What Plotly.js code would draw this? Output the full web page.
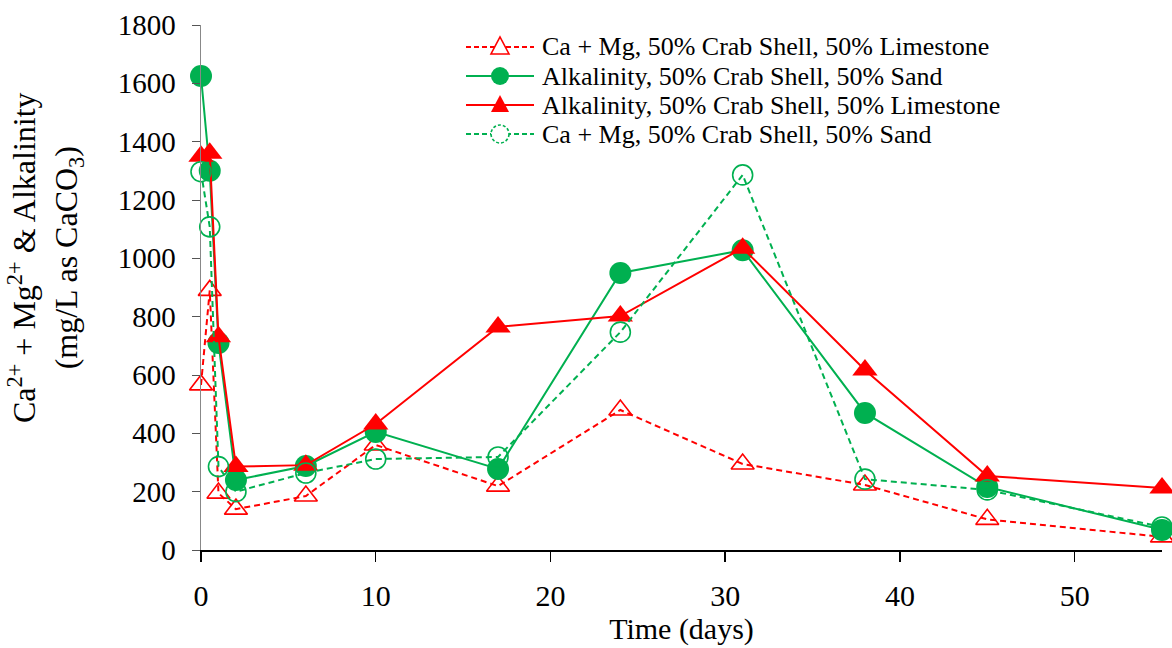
<!DOCTYPE html>
<html>
<head>
<meta charset="utf-8">
<script src="https://cdn.plot.ly/plotly-3.0.1.min.js"></script>
<style>html,body{margin:0;padding:0;background:#fff;}#chart{width:1172px;height:648px;}</style>
</head>
<body>
<div id="chart"></div>
<script>
// Time (days) for each sample
const days = [0, 0.5, 1, 2, 6, 10, 17, 24, 31, 38, 45, 55];

// Series values (mg/L as CaCO3)
const caMgLimestone   = [566, 890, 195, 140, 185, 360, 219, 480, 295, 223, 105, 45];
const alkSand         = [1625, 1300, 710, 240, 288, 405, 278, 950, 1028, 470, 216, 69];
const alkLimestone    = [1350, 1360, 731, 286, 291, 432, 765, 802, 1035, 617, 254, 213];
const caMgSand        = [1297, 1108, 286, 200, 264, 312, 319, 747, 1286, 243, 206, 79];

const seriesNames = [
  "Ca + Mg, 50% Crab Shell, 50% Limestone",
  "Alkalinity, 50% Crab Shell, 50% Sand",
  "Alkalinity, 50% Crab Shell, 50% Limestone",
  "Ca + Mg, 50% Crab Shell, 50% Sand"
];

const yTicks = [0, 200, 400, 600, 800, 1000, 1200, 1400, 1600, 1800];
const xTicks = [0, 10, 20, 30, 40, 50];

const RED = "#FF0000", GREEN = "#00B050";
const FONT = '"Times New Roman", "Liberation Serif", serif';

// styles per series (legend + traces)
const styles = [
  {color: RED,   dash: "6px,4px", symbol: "triangle-up-open", size: 20, kind: "tri",  filled: false},
  {color: GREEN, dash: "solid",   symbol: "circle",           size: 22, kind: "circ", filled: true},
  {color: RED,   dash: "solid",   symbol: "triangle-up",      size: 22, kind: "tri",  filled: true},
  {color: GREEN, dash: "6px,4px", symbol: "circle-open",      size: 20, kind: "circ", filled: false}
];
const seriesValues = [caMgLimestone, alkSand, alkLimestone, caMgSand];

const traces = seriesValues.map((vals, i) => {
  const s = styles[i];
  return {
    x: days, y: vals, name: seriesNames[i], mode: "lines+markers", cliponaxis: false,
    line: {color: s.color, width: 2, dash: s.dash},
    marker: s.filled
      ? {symbol: s.symbol, size: s.size, color: s.color}
      : {symbol: s.symbol, size: s.size, color: s.color, line: {color: s.color, width: 1.6}}
  };
});

// Plot geometry (pixels) used to place the custom legend
const M = {l: 201, r: 10, t: 25, b: 98};
const W = 1172, H = 648;
const PW = W - M.l - M.r, PH = H - M.t - M.b;
const px2x = p => (p - M.l) / PW;
const py2y = p => (H - M.b - p) / PH;

const legRows = [47, 76, 105, 134];
const legLineX0 = 466, legLineX1 = 534, legMarkX = 500, legTextX = 540;

const shapes = [];
const annotations = [];
seriesNames.forEach((name, i) => {
  const s = styles[i];
  const yp = py2y(legRows[i]);
  shapes.push({type: "line", xref: "paper", yref: "paper",
               x0: px2x(legLineX0), x1: px2x(legLineX1), y0: yp, y1: yp,
               line: {color: s.color, width: 2, dash: s.dash === "solid" ? "solid" : "5px,3px"}});
  const base = {xref: "paper", yref: "paper", xsizemode: "pixel", ysizemode: "pixel",
                xanchor: px2x(legMarkX), yanchor: yp,
                fillcolor: s.filled ? s.color : "#fff",
                line: {color: s.color, width: s.filled ? 0 : 1.6, dash: (!s.filled && s.kind === "circ") ? "3px,2px" : "solid"}};
  if (s.kind === "circ") {
    shapes.push(Object.assign({type: "circle", x0: -9, x1: 9, y0: -9, y1: 9}, base));
  } else {
    shapes.push(Object.assign({type: "path", path: "M -9,-7 L 9,-7 L 0,10 Z"}, base));
  }
  annotations.push({xref: "paper", yref: "paper", x: px2x(legTextX), y: yp,
                    xanchor: "left", yanchor: "middle", showarrow: false,
                    text: name, font: {family: FONT, size: 26, color: "#000"}});
});

// y-axis title (two lines) placed left of tick labels
annotations.push({xref: "paper", yref: "paper", x: px2x(45), y: py2y(258),
                  xanchor: "center", yanchor: "middle", showarrow: false, textangle: -90,
                  text: "Ca<sup>2+</sup> + Mg<sup>2+</sup> & Alkalinity<br>(mg/L as CaCO<sub>3</sub>)",
                  font: {family: FONT, size: 32, color: "#000"}});

const layout = {
  width: W, height: H,
  margin: M,
  paper_bgcolor: "#fff", plot_bgcolor: "#fff",
  font: {family: FONT, size: 28, color: "#000"},
  showlegend: false,
  shapes: shapes,
  annotations: annotations,
  xaxis: {range: [0, 55], tickvals: xTicks, ticktext: xTicks.map(String),
          showgrid: false, zeroline: false, showline: true, linecolor: "#000", linewidth: 1.5,
          ticks: "outside", ticklen: 10, tickcolor: "#000", tickwidth: 1.5,
          tickfont: {family: FONT, size: 30}, ticklabelstandoff: 8,
          title: {text: "Time (days)", font: {family: FONT, size: 30}, standoff: 2}},
  yaxis: {range: [0, 1800], tickvals: yTicks, ticktext: yTicks.map(String),
          showgrid: false, zeroline: false, showline: true, linecolor: "#888", linewidth: 1.5,
          ticks: "outside", ticklen: 8, tickcolor: "#555", tickwidth: 1,
          tickfont: {family: FONT, size: 29}, ticklabelstandoff: 10}
};

Plotly.newPlot("chart", traces, layout, {displayModeBar: false, staticPlot: true});
</script>
</body>
</html>
